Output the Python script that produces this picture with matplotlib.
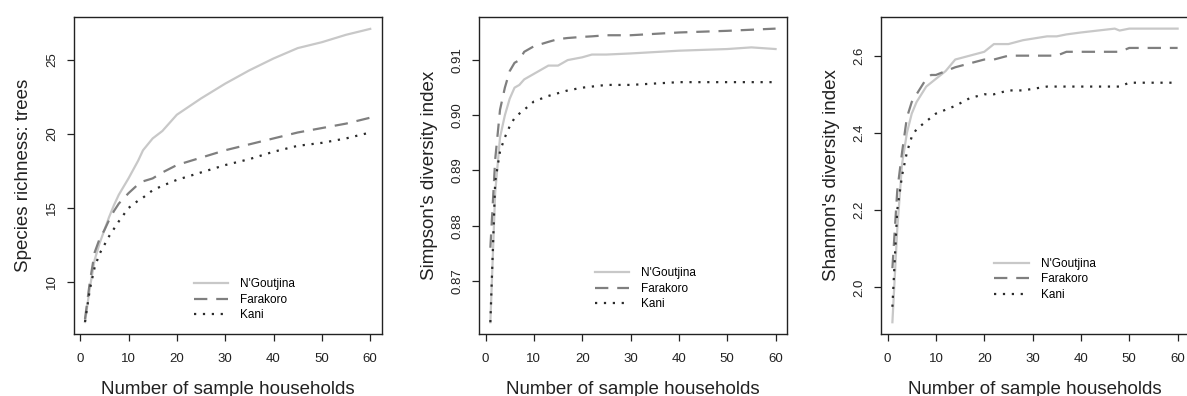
import matplotlib
matplotlib.use("Agg")
import matplotlib.pyplot as plt

plt.rcParams["font.family"] = ["Liberation Sans", "DejaVu Sans"]

sites = ["N'Goutjina", "Farakoro", "Kani"]
colors = ["#c8c8c8", "#7f7f7f", "#2b2b2b"]
styles = ["-", (0, (6, 4)), (0, (1, 3))]

# species richness (trees)
rich_x = [1, 2, 3, 4, 5, 6, 7, 8, 10, 12, 13, 15, 17, 20, 25, 30, 35, 40, 45, 50, 55, 60]
rich = {
    "N'Goutjina": [7.3, 9.6, 11.5, 12.6, 13.5, 14.4, 15.2, 15.9, 17.0, 18.2, 18.9, 19.7, 20.2, 21.3, 22.4, 23.4, 24.3, 25.1, 25.8, 26.2, 26.7, 27.1],
    "Farakoro": [7.5, 10.0, 12.0, 12.9, 13.5, 14.2, 14.8, 15.3, 16.0, 16.6, 16.8, 17.0, 17.4, 17.9, 18.4, 18.9, 19.3, 19.7, 20.1, 20.4, 20.7, 21.1],
    "Kani": [7.3, 9.5, 11.0, 11.9, 12.5, 13.1, 13.6, 14.1, 15.0, 15.5, 15.7, 16.2, 16.5, 16.9, 17.4, 17.9, 18.3, 18.8, 19.2, 19.4, 19.7, 20.1],
}

# Simpson's diversity index
simp_x = [1, 2, 3, 4, 5, 6, 7, 8, 10, 13, 15, 17, 20, 22, 25, 30, 40, 50, 55, 60]
simp = {
    "N'Goutjina": [0.8625, 0.886, 0.896, 0.900, 0.903, 0.905, 0.9055, 0.9065, 0.9075, 0.909, 0.909, 0.910, 0.9105, 0.911, 0.911, 0.9112, 0.9117, 0.912, 0.9123, 0.912],
    "Farakoro": [0.876, 0.892, 0.901, 0.905, 0.908, 0.9095, 0.910, 0.9115, 0.9125, 0.9133, 0.9138, 0.914, 0.9142, 0.9143, 0.9145, 0.9145, 0.915, 0.9153, 0.9155, 0.9157],
    "Kani": [0.8625, 0.888, 0.8935, 0.896, 0.898, 0.8995, 0.9003, 0.901, 0.9025, 0.9035, 0.904, 0.9045, 0.905, 0.9052, 0.9055, 0.9055, 0.906, 0.906, 0.906, 0.906],
}

# Shannon's diversity index
shan_x = [1, 2, 3, 4, 5, 6, 7, 8, 9, 10, 12, 14, 17, 20, 22, 25, 28, 33, 35, 37, 40, 47, 48, 50, 60]
shan = {
    "N'Goutjina": [1.91, 2.15, 2.32, 2.40, 2.45, 2.48, 2.50, 2.52, 2.53, 2.54, 2.56, 2.59, 2.60, 2.61, 2.63, 2.63, 2.64, 2.65, 2.65, 2.655, 2.66, 2.67, 2.665, 2.67, 2.67],
    "Farakoro": [2.05, 2.25, 2.35, 2.44, 2.48, 2.50, 2.52, 2.54, 2.55, 2.55, 2.56, 2.57, 2.58, 2.59, 2.59, 2.60, 2.60, 2.60, 2.60, 2.61, 2.61, 2.61, 2.61, 2.62, 2.62],
    "Kani": [1.95, 2.20, 2.29, 2.35, 2.39, 2.41, 2.42, 2.43, 2.44, 2.45, 2.46, 2.47, 2.49, 2.50, 2.50, 2.51, 2.51, 2.52, 2.52, 2.52, 2.52, 2.52, 2.52, 2.53, 2.53],
}

panels = [
    (rich_x, rich, "Species richness: trees", [10, 15, 20, 25], ["10", "15", "20", "25"], (6.5, 27.9), 0.062, (0.357, 0.006)),
    (simp_x, simp, "Simpson's diversity index", [0.87, 0.88, 0.89, 0.90, 0.91], ["0.87", "0.88", "0.89", "0.90", "0.91"], (0.8604, 0.9178), 0.4035, (0.341, 0.041)),
    (shan_x, shan, "Shannon's diversity index", [2.0, 2.2, 2.4, 2.6], ["2.0", "2.2", "2.4", "2.6"], (1.88, 2.70), 0.7422, (0.334, 0.07)),
]

fig = plt.figure(figsize=(11.87, 3.96), dpi=100)

for xs, data, ylabel, yt, ytl, ylim, left, leg_pos in panels:
    ax = fig.add_axes([left, 0.157, 0.2595, 0.800])
    for site, c, ls in zip(sites, colors, styles):
        ax.plot(xs, data[site], color=c, linestyle=ls, linewidth=1.6, label=site)
    ax.set_xlim(-1.36, 62.36)
    ax.set_ylim(*ylim)
    ax.set_xticks([0, 10, 20, 30, 40, 50, 60])
    ax.set_yticks(yt)
    ax.set_yticklabels(ytl, rotation=90, va="center")
    ax.tick_params(axis="both", direction="out", length=5, width=0.9, labelsize=9.5, colors="#222222")
    ax.tick_params(axis="x", pad=9)
    ax.tick_params(axis="y", pad=6)
    for sp in ax.spines.values():
        sp.set_linewidth(1.0)
        sp.set_color("#222222")
    ax.set_xlabel("Number of sample households", fontsize=13.5, color="#222222", labelpad=11)
    ax.set_ylabel(ylabel, fontsize=13.5, color="#222222", labelpad=10)
    ax.legend(loc="lower left", bbox_to_anchor=leg_pos, frameon=False, fontsize=8.5,
              handlelength=2.9, handletextpad=1.0, labelspacing=0.3)

fig.savefig("out.png", dpi=100)
